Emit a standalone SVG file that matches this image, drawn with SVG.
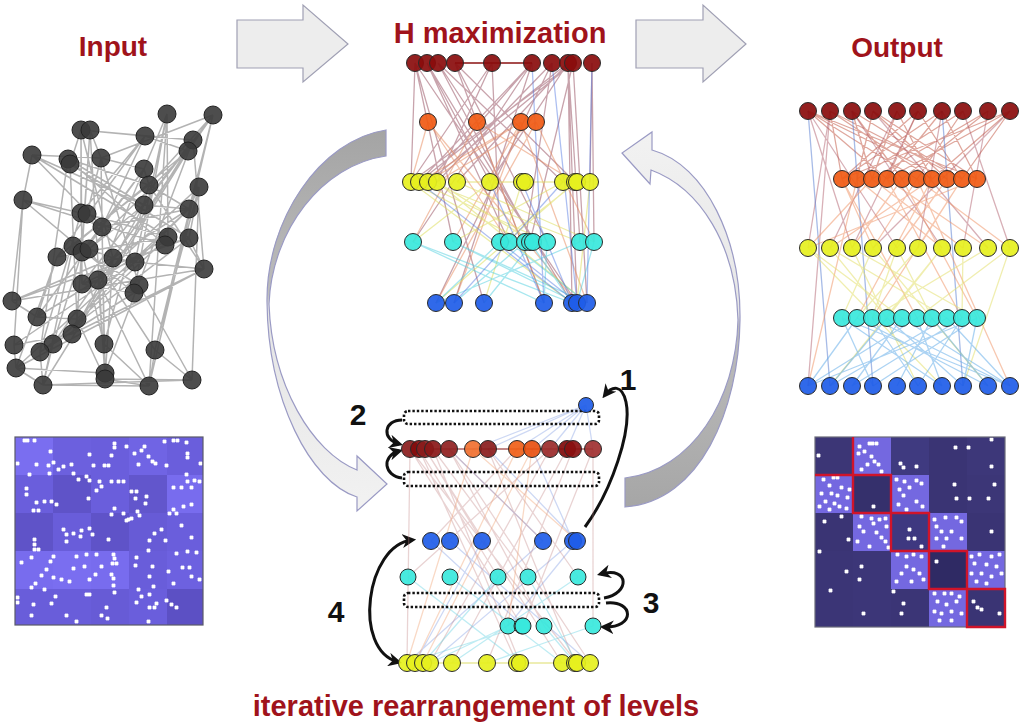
<svg xmlns="http://www.w3.org/2000/svg" width="1024" height="728" viewBox="0 0 1024 728">
<style>
.title{font-family:"Liberation Sans",Arial,sans-serif;font-weight:bold;fill:#a0131b}
.num{font-family:"Liberation Sans",Arial,sans-serif;font-weight:bold;fill:#111;font-size:30px;text-anchor:middle}
.n{stroke:#2a2a2a;stroke-width:1;fill-opacity:.92}
.g{fill:#3a3a3a;stroke:#222;stroke-width:1;fill-opacity:.9}
.dr{fill:#8a0c0c}.or{fill:#f05a14}.ye{fill:#e6f01e}.cy{fill:#38e8dc}.bl{fill:#1e5ce8}
.e{fill:none;stroke-width:1.3}
.blk{fill:#ededed;stroke:#a0a0b4;stroke-width:1.2}
.dot{fill:none;stroke:#111;stroke-width:2.6;stroke-dasharray:2.4 2}
.ba{fill:none;stroke:#111;stroke-width:3}
.wd{fill:#fff;stroke:#fff;stroke-width:.8}
</style>
<defs>
<marker id="ah" viewBox="0 0 10 10" refX="7" refY="5" markerWidth="4.6" markerHeight="4.6" orient="auto-start-reverse" markerUnits="strokeWidth">
<path d="M0,0 L10,5 L0,10 L3,5 z" fill="#111"/>
</marker>
<linearGradient id="gL" gradientUnits="userSpaceOnUse" x1="0" y1="130" x2="0" y2="513">
<stop offset="0" stop-color="#a4a4a4"/><stop offset="0.43" stop-color="#bcbcbc"/><stop offset="0.46" stop-color="#e4e4e4"/><stop offset="1" stop-color="#f2f2f2"/>
</linearGradient>
<linearGradient id="gR" gradientUnits="userSpaceOnUse" x1="0" y1="130" x2="0" y2="508">
<stop offset="0" stop-color="#f2f2f2"/><stop offset="0.49" stop-color="#e6e6e6"/><stop offset="0.52" stop-color="#bdbdbd"/><stop offset="1" stop-color="#a6a6a6"/>
</linearGradient>
</defs>
<rect width="1024" height="728" fill="#fff"/>

<g id="labels">
<text class="title" x="113" y="56" font-size="28" text-anchor="middle">Input</text>
<text class="title" x="500" y="43" font-size="29" text-anchor="middle">H maximization</text>
<text class="title" x="897" y="57" font-size="28" text-anchor="middle">Output</text>
<text class="title" x="476" y="716" font-size="29" text-anchor="middle">iterative rearrangement of levels</text>
<text class="num" x="628" y="390">1</text>
<text class="num" x="358" y="425">2</text>
<text class="num" x="651" y="613">3</text>
<text class="num" x="336" y="622">4</text>
</g>

<g id="connectors">
<path class="blk" d="M237,20 L303,20 L303,5 L348,44 L303,82 L303,68 L237,68 Z"/>
<path class="blk" d="M636,20 L703,20 L703,5 L746,44 L703,82 L703,68 L636,68 Z"/>
<path fill="url(#gL)" stroke="#9a9ac4" stroke-width="1.2" d="M386,130 C320,140 266,220 267,302 C268,400 310,482 357,497 L357,511 L387,484 L357,456 L357,470 C312,452 272,385 269,304 C272,230 322,165 386,156 Z"/>
<path fill="url(#gR)" stroke="#9a9ac4" stroke-width="1.2" d="M625,478 C692,470 736,400 738,320 C736,245 700,188 651,170 L650,184 L622,153 L652,132 L652,150 C706,165 741,240 740,320 C739,410 700,502 625,507 Z"/>
<path class="ba" marker-end="url(#ah)" d="M585,527 C612,490 632,430 626,402 C622,384 612,386 605,395"/>
<path class="ba" marker-end="url(#ah)" d="M402,420 C384,420 381,439 399,444"/>
<path class="ba" marker-end="url(#ah)" d="M402,478 C384,476 381,456 399,451"/>
<path class="ba" marker-end="url(#ah)" d="M604,598 C630,594 630,566 601,574"/>
<path class="ba" marker-end="url(#ah)" d="M606,603 C634,600 636,628 604,627"/>
<path class="ba" marker-start="url(#ah)" marker-end="url(#ah)" d="M412,540 C366,545 352,650 398,662"/>
</g>

<g id="input-graph">
<path fill="none" stroke="#808080" stroke-opacity=".6" stroke-width="1.5" d="M167 114L144 169M167 114L135 262M167 114L168 237M167 114L134 293M167 114L149 386M213 115L188 151M213 115L149 185M213 115L189 209M213 115L155 350M213 115L149 386M213 115L144 205M213 115L101 158M81 130L145 136M81 130L193 140M81 130L70 164M81 130L81 213M81 130L113 258M81 130L82 284M90 130L101 158M90 130L82 252M90 130L77 319M90 130L105 379M145 136L193 140M145 136L188 151M145 136L102 227M145 136L57 257M193 140L188 151M193 140L204 269M193 140L82 284M193 140L72 334M193 140L105 373M188 151L73 246M188 151L89 249M188 151L98 280M188 151L53 344M188 151L43 385M32 155L101 158M32 155L23 200M32 155L102 227M32 155L168 237M68 159L144 205M68 159L149 185M68 159L165 245M68 159L40 352M70 164L189 238M70 164L77 319M101 158L144 169M101 158L87 214M101 158L104 344M144 169L149 185M144 169L82 252M144 169L37 317M149 185L189 209M149 185L204 269M149 185L57 257M199 187L189 209M199 187L189 238M199 187L192 380M199 187L98 280M23 200L81 213M23 200L12 301M23 200L14 345M23 200L165 245M144 205L189 209M144 205L89 249M144 205L72 334M189 209L102 227M189 209L113 258M189 209L77 319M189 209L16 368M81 213L87 214M81 213L135 262M81 213L40 352M87 214L168 237M102 227L37 317M102 227L105 373M168 237L165 245M168 237L57 257M168 237L53 344M165 245L189 238M165 245L82 284M189 238L204 269M189 238L12 301M189 238L40 352M73 246L82 252M73 246L139 285M73 246L43 385M82 252L104 344M89 249L113 258M89 249L155 350M57 257L37 317M113 258L135 262M113 258L105 379M135 262L204 269M135 262L14 345M204 269L72 334M204 269L16 368M204 269L12 301M98 280L82 284M98 280L149 386M82 284L134 293M139 285L134 293M139 285L192 380M134 293L53 344M12 301L37 317M37 317L77 319M77 319L72 334M72 334L14 345M14 345L16 368M53 344L40 352M53 344L43 385M40 352L43 385M104 344L105 373M104 344L149 386M155 350L149 386M155 350L192 380M105 373L105 379M105 379L149 386M105 379L192 380M43 385L149 386M16 368L105 373M77 319L105 379M98 280L105 373M57 257L16 368M82 252L53 344M144 169L98 280M149 185L104 344M199 187L155 350M145 136L81 213M101 158L139 285M43 385L192 380M16 368L43 385M32 155L144 205M23 200L134 293M12 301L113 258M37 317L168 237"/>
<g>
<circle class="g" cx="167" cy="114" r="9"/><circle class="g" cx="213" cy="115" r="9"/><circle class="g" cx="81" cy="130" r="9"/><circle class="g" cx="90" cy="130" r="9"/><circle class="g" cx="145" cy="136" r="9"/><circle class="g" cx="193" cy="140" r="9"/><circle class="g" cx="188" cy="151" r="9"/><circle class="g" cx="32" cy="155" r="9"/><circle class="g" cx="68" cy="159" r="9"/><circle class="g" cx="70" cy="164" r="9"/><circle class="g" cx="101" cy="158" r="9"/><circle class="g" cx="144" cy="169" r="9"/><circle class="g" cx="149" cy="185" r="9"/><circle class="g" cx="199" cy="187" r="9"/><circle class="g" cx="23" cy="200" r="9"/><circle class="g" cx="144" cy="205" r="9"/><circle class="g" cx="189" cy="209" r="9"/><circle class="g" cx="81" cy="213" r="9"/><circle class="g" cx="87" cy="214" r="9"/><circle class="g" cx="102" cy="227" r="9"/><circle class="g" cx="168" cy="237" r="9"/><circle class="g" cx="165" cy="245" r="9"/><circle class="g" cx="189" cy="238" r="9"/><circle class="g" cx="73" cy="246" r="9"/><circle class="g" cx="82" cy="252" r="9"/><circle class="g" cx="89" cy="249" r="9"/><circle class="g" cx="57" cy="257" r="9"/><circle class="g" cx="113" cy="258" r="9"/><circle class="g" cx="135" cy="262" r="9"/><circle class="g" cx="204" cy="269" r="9"/><circle class="g" cx="98" cy="280" r="9"/><circle class="g" cx="82" cy="284" r="9"/><circle class="g" cx="139" cy="285" r="9"/><circle class="g" cx="134" cy="293" r="9"/><circle class="g" cx="12" cy="301" r="9"/><circle class="g" cx="37" cy="317" r="9"/><circle class="g" cx="77" cy="319" r="9"/><circle class="g" cx="72" cy="334" r="9"/><circle class="g" cx="14" cy="345" r="9"/><circle class="g" cx="53" cy="344" r="9"/><circle class="g" cx="40" cy="352" r="9"/><circle class="g" cx="104" cy="344" r="9"/><circle class="g" cx="155" cy="350" r="9"/><circle class="g" cx="16" cy="368" r="9"/><circle class="g" cx="105" cy="373" r="9"/><circle class="g" cx="105" cy="379" r="9"/><circle class="g" cx="43" cy="385" r="9"/><circle class="g" cx="149" cy="386" r="9"/><circle class="g" cx="192" cy="380" r="9"/>
</g>
</g>

<g id="input-matrix">
<rect x="15" y="437" width="38" height="38" fill="#7a6ef0"/><rect x="53" y="437" width="38" height="38" fill="#6c60de"/><rect x="91" y="437" width="38" height="38" fill="#6a5edc"/><rect x="129" y="437" width="38" height="38" fill="#7064e4"/><rect x="167" y="437" width="36" height="38" fill="#6a5edc"/>
<rect x="15" y="475" width="38" height="38" fill="#6a5edc"/><rect x="53" y="475" width="38" height="38" fill="#5f53c8"/><rect x="91" y="475" width="38" height="38" fill="#6a5edc"/><rect x="129" y="475" width="38" height="38" fill="#6256cc"/><rect x="167" y="475" width="36" height="38" fill="#786cee"/>
<rect x="15" y="513" width="38" height="38" fill="#5f53c8"/><rect x="53" y="513" width="38" height="38" fill="#695dda"/><rect x="91" y="513" width="38" height="38" fill="#5f53c8"/><rect x="129" y="513" width="38" height="38" fill="#675bd6"/><rect x="167" y="513" width="36" height="38" fill="#6a5edc"/>
<rect x="15" y="551" width="38" height="38" fill="#786cee"/><rect x="53" y="551" width="38" height="38" fill="#7a6ef0"/><rect x="91" y="551" width="38" height="38" fill="#786cee"/><rect x="129" y="551" width="38" height="38" fill="#695dda"/><rect x="167" y="551" width="36" height="38" fill="#6d61e0"/>
<rect x="15" y="589" width="38" height="36" fill="#695dda"/><rect x="53" y="589" width="38" height="36" fill="#695dda"/><rect x="91" y="589" width="38" height="36" fill="#675bd6"/><rect x="129" y="589" width="38" height="36" fill="#6a5edc"/><rect x="167" y="589" width="36" height="36" fill="#5c50c4"/>
<path class="wd" d="M23 439h3v3h-3zM26 439h3v3h-3zM33 439h3v3h-3zM113 442h3v3h-3zM113 446h3v3h-3zM125 445h3v3h-3zM143 445h3v3h-3zM140 449h3v3h-3zM163 440h3v3h-3zM172 439h3v3h-3zM176 439h3v3h-3zM185 441h3v3h-3zM49 450h3v3h-3zM88 453h3v3h-3zM110 454h3v3h-3zM133 452h3v3h-3zM147 455h3v3h-3zM151 460h3v3h-3zM186 452h3v3h-3zM186 456h3v3h-3zM16 462h3v3h-3zM35 463h3v3h-3zM47 464h3v3h-3zM52 461h3v3h-3zM57 468h3v3h-3zM62 465h3v3h-3zM70 463h3v3h-3zM92 464h3v3h-3zM103 464h3v3h-3zM107 464h3v3h-3zM137 463h3v3h-3zM154 462h3v3h-3zM165 464h3v3h-3zM199 462h3v3h-3zM28 473h3v3h-3zM48 472h3v3h-3zM72 472h3v3h-3zM77 478h3v3h-3zM85 475h3v3h-3zM88 479h3v3h-3zM98 480h3v3h-3zM110 480h3v3h-3zM117 480h3v3h-3zM122 480h3v3h-3zM185 473h3v3h-3zM186 480h3v3h-3zM193 479h3v3h-3zM198 480h3v3h-3zM172 486h3v3h-3zM180 486h3v3h-3zM190 486h3v3h-3zM95 489h3v3h-3zM100 485h3v3h-3zM25 487h3v3h-3zM25 493h3v3h-3zM130 490h3v3h-3zM135 490h3v3h-3zM145 495h3v3h-3zM134 497h3v3h-3zM144 502h3v3h-3zM35 501h3v3h-3zM43 500h3v3h-3zM50 500h3v3h-3zM55 503h3v3h-3zM32 509h3v3h-3zM37 509h3v3h-3zM87 497h3v3h-3zM113 507h3v3h-3zM110 513h3v3h-3zM136 510h3v3h-3zM172 508h3v3h-3zM190 503h3v3h-3zM182 505h3v3h-3zM175 512h3v3h-3zM168 512h3v3h-3zM122 512h3v3h-3zM127 518h3v3h-3zM138 514h3v3h-3zM125 519h3v3h-3zM130 517h3v3h-3zM160 528h3v3h-3zM180 524h3v3h-3zM62 528h3v3h-3zM65 533h3v3h-3zM72 532h3v3h-3zM80 529h3v3h-3zM88 527h3v3h-3zM91 533h3v3h-3zM79 535h3v3h-3zM153 532h3v3h-3zM33 538h3v3h-3zM33 543h3v3h-3zM33 548h3v3h-3zM37 548h3v3h-3zM65 540h3v3h-3zM107 538h3v3h-3zM148 539h3v3h-3zM147 549h3v3h-3zM190 536h3v3h-3zM164 539h3v3h-3zM30 556h3v3h-3zM52 555h3v3h-3zM49 560h3v3h-3zM75 555h3v3h-3zM85 553h3v3h-3zM95 553h3v3h-3zM112 553h3v3h-3zM113 557h3v3h-3zM115 562h3v3h-3zM135 556h3v3h-3zM175 552h3v3h-3zM186 550h3v3h-3zM195 551h3v3h-3zM20 561h3v3h-3zM72 567h3v3h-3zM83 565h3v3h-3zM100 565h3v3h-3zM111 562h3v3h-3zM134 564h3v3h-3zM151 565h3v3h-3zM45 568h3v3h-3zM40 574h3v3h-3zM52 576h3v3h-3zM60 578h3v3h-3zM68 580h3v3h-3zM88 578h3v3h-3zM94 573h3v3h-3zM110 573h3v3h-3zM112 577h3v3h-3zM112 584h3v3h-3zM167 570h3v3h-3zM181 566h3v3h-3zM188 566h3v3h-3zM190 575h3v3h-3zM198 578h3v3h-3zM148 575h3v3h-3zM172 582h3v3h-3zM34 582h3v3h-3zM30 586h3v3h-3zM43 588h3v3h-3zM137 588h3v3h-3zM152 585h3v3h-3zM16 596h3v3h-3zM16 601h3v3h-3zM54 595h3v3h-3zM85 593h3v3h-3zM88 593h3v3h-3zM113 591h3v3h-3zM140 595h3v3h-3zM135 601h3v3h-3zM148 593h3v3h-3zM155 602h3v3h-3zM165 599h3v3h-3zM170 603h3v3h-3zM175 606h3v3h-3zM32 603h3v3h-3zM50 602h3v3h-3zM105 606h3v3h-3zM148 606h3v3h-3zM153 606h3v3h-3zM30 614h3v3h-3zM65 614h3v3h-3zM100 614h3v3h-3zM106 617h3v3h-3zM147 620h3v3h-3zM75 620h3v3h-3z"/>
<rect x="15" y="437" width="188" height="188" fill="none" stroke="#5a5a6a" stroke-width="1.2"/>
</g>

<g id="hmax">
<path class="e" stroke="#9a5868" stroke-opacity=".55" d="M415 63L411 182M415 63L453 242M415 63L484 303M427 63L490 182M427 63L509 242M438 63L563 182M438 63L477 122M455 63L544 303M455 63L547 242M492 63L437 182M492 63L500 242M492 63L411 182M532 63L419 182M532 63L428 182M532 63L413 242M532 63L454 303M552 63L437 182M552 63L525 242M568 63L419 182M568 63L457 182M568 63L580 242M568 63L572 303M568 63L577 303M573 63L428 182M573 63L530 242M573 63L587 303M592 63L590 182M592 63L594 242M427 63L572 303M438 63L533 242M455 63L575 182M552 63L436 303M573 63L411 182M568 63L490 182M415 63L577 303"/>
<path class="e" stroke="#e8885a" stroke-opacity=".5" d="M428 122L411 182M428 122L509 242M428 122L577 303M477 122L575 182M477 122L544 303M521 122L419 182M521 122L428 182M521 122L453 242M521 122L454 303M536 122L437 182M536 122L436 303M477 122L413 242M536 122L594 242M521 122L587 303"/>
<path class="e" stroke="#dede60" stroke-opacity=".55" d="M411 182L525 242M419 182L547 242M428 182L580 242M437 182L587 303M457 182L594 242M490 182L413 242M522 182L484 303M563 182L453 242M575 182L436 303M577 182L500 242M590 182L577 303M437 182L533 242M411 182L572 303M457 182L590 182"/>
<path class="e" stroke="#50d0e0" stroke-opacity=".5" d="M413 242L572 303M453 242L577 303M500 242L436 303M509 242L587 303M525 242L454 303M530 242L572 303M533 242L484 303M547 242L544 303M580 242L436 303M594 242L577 303M413 242L544 303M453 242L587 303"/>
<path class="e" stroke="#4a70e0" stroke-opacity=".45" d="M544 303L490 182M572 303L522 182M577 303L500 242M587 303L592 63M572 303L419 182M577 303L552 63M544 303L532 63M454 303L563 182"/>
<path class="e" stroke="#8a1010" stroke-width="1.6" d="M455 63L532 63"/>
<g class="n">
<circle class="dr" cx="415" cy="63" r="8.5"/><circle class="dr" cx="427" cy="63" r="8.5"/><circle class="dr" cx="438" cy="63" r="8.5"/><circle class="dr" cx="455" cy="63" r="8.5"/><circle class="dr" cx="492" cy="63" r="8.5"/><circle class="dr" cx="532" cy="63" r="8.5"/><circle class="dr" cx="552" cy="63" r="8.5"/><circle class="dr" cx="568" cy="63" r="8.5"/><circle class="dr" cx="573" cy="63" r="8.5"/><circle class="dr" cx="592" cy="63" r="8.5"/>
<circle class="or" cx="428" cy="122" r="8.5"/><circle class="or" cx="477" cy="122" r="8.5"/><circle class="or" cx="521" cy="122" r="8.5"/><circle class="or" cx="536" cy="122" r="8.5"/>
<circle class="ye" cx="411" cy="182" r="8.5"/><circle class="ye" cx="419" cy="182" r="8.5"/><circle class="ye" cx="428" cy="182" r="8.5"/><circle class="ye" cx="437" cy="182" r="8.5"/><circle class="ye" cx="457" cy="182" r="8.5"/><circle class="ye" cx="490" cy="182" r="8.5"/><circle class="ye" cx="522" cy="182" r="8.5"/><circle class="ye" cx="525" cy="182" r="8.5"/><circle class="ye" cx="563" cy="182" r="8.5"/><circle class="ye" cx="575" cy="182" r="8.5"/><circle class="ye" cx="577" cy="182" r="8.5"/><circle class="ye" cx="590" cy="182" r="8.5"/>
<circle class="cy" cx="413" cy="242" r="8.5"/><circle class="cy" cx="453" cy="242" r="8.5"/><circle class="cy" cx="500" cy="242" r="8.5"/><circle class="cy" cx="509" cy="242" r="8.5"/><circle class="cy" cx="525" cy="242" r="8.5"/><circle class="cy" cx="530" cy="242" r="8.5"/><circle class="cy" cx="533" cy="242" r="8.5"/><circle class="cy" cx="547" cy="242" r="8.5"/><circle class="cy" cx="580" cy="242" r="8.5"/><circle class="cy" cx="594" cy="242" r="8.5"/>
<circle class="bl" cx="436" cy="303" r="8.5"/><circle class="bl" cx="454" cy="303" r="8.5"/><circle class="bl" cx="484" cy="303" r="8.5"/><circle class="bl" cx="544" cy="303" r="8.5"/><circle class="bl" cx="572" cy="303" r="8.5"/><circle class="bl" cx="577" cy="303" r="8.5"/><circle class="bl" cx="587" cy="303" r="8.5"/>
</g>
</g>

<g id="output-graph">
<path class="e" stroke="#c0503c" stroke-opacity=".5" d="M808 111L887 179M808 111L917 179M808 111L947 179M808 111L977 179M830 111L842 179M830 111L932 179M852 111L902 179M852 111L962 179M873 111L857 179M873 111L977 179M897 111L872 179M897 111L932 179M918 111L842 179M918 111L962 179M942 111L887 179M942 111L977 179M963 111L857 179M963 111L917 179M988 111L872 179M988 111L902 179M1010 111L842 179M1010 111L887 179M1010 111L932 179M873 111L947 179M942 111L842 179M852 111L872 179M830 111L962 179M918 111L887 179M1010 111L962 179"/>
<path class="e" stroke="#a85060" stroke-opacity=".45" d="M808 111L897 248M830 111L808 248M852 111L942 248M873 111L988 248M918 111L852 248M942 111L918 248M963 111L1010 248M1010 111L873 248M988 111L963 248M897 111L830 248M808 111L852 248M830 111L808 386"/>
<path class="e" stroke="#5078d0" stroke-opacity=".5" d="M808 111L830 386M942 111L963 386M852 111L873 386"/>
<path class="e" stroke="#f09060" stroke-opacity=".5" d="M842 179L873 248M857 179L942 248M872 179L808 248M887 179L988 248M902 179L852 248M917 179L1010 248M932 179L830 248M947 179L897 248M962 179L918 248M977 179L808 248M872 179L963 248M917 179L873 248M842 179L917 318M887 179L962 318M932 179L857 318M962 179L872 318M902 179L977 318M857 179L808 386M917 179L1010 386"/>
<path class="e" stroke="#e4e070" stroke-opacity=".55" d="M808 248L902 318M830 248L947 318M852 248L977 318M873 248L842 318M897 248L932 318M918 248L857 318M942 248L887 318M963 248L962 318M988 248L872 318M1010 248L917 318M897 248L872 318M830 248L887 318M808 248L942 386M873 248L988 386M942 248L830 386M1010 248L963 386M852 248L918 386"/>
<path class="e" stroke="#5aa8e8" stroke-opacity=".5" d="M842 318L873 386M842 318L942 386M857 318L808 386M857 318L988 386M872 318L918 386M872 318L1010 386M887 318L830 386M887 318L963 386M902 318L852 386M902 318L1010 386M917 318L808 386M917 318L942 386M932 318L897 386M932 318L988 386M947 318L830 386M947 318L1010 386M962 318L852 386M962 318L918 386M977 318L873 386M977 318L963 386M842 318L1010 386M977 318L808 386"/>
<g class="n">
<circle class="dr" cx="808" cy="111" r="8.5"/><circle class="dr" cx="830" cy="111" r="8.5"/><circle class="dr" cx="852" cy="111" r="8.5"/><circle class="dr" cx="873" cy="111" r="8.5"/><circle class="dr" cx="897" cy="111" r="8.5"/><circle class="dr" cx="918" cy="111" r="8.5"/><circle class="dr" cx="942" cy="111" r="8.5"/><circle class="dr" cx="963" cy="111" r="8.5"/><circle class="dr" cx="988" cy="111" r="8.5"/><circle class="dr" cx="1010" cy="111" r="8.5"/>
<circle class="or" cx="842" cy="179" r="8.5"/><circle class="or" cx="857" cy="179" r="8.5"/><circle class="or" cx="872" cy="179" r="8.5"/><circle class="or" cx="887" cy="179" r="8.5"/><circle class="or" cx="902" cy="179" r="8.5"/><circle class="or" cx="917" cy="179" r="8.5"/><circle class="or" cx="932" cy="179" r="8.5"/><circle class="or" cx="947" cy="179" r="8.5"/><circle class="or" cx="962" cy="179" r="8.5"/><circle class="or" cx="977" cy="179" r="8.5"/>
<circle class="ye" cx="808" cy="248" r="8.5"/><circle class="ye" cx="830" cy="248" r="8.5"/><circle class="ye" cx="852" cy="248" r="8.5"/><circle class="ye" cx="873" cy="248" r="8.5"/><circle class="ye" cx="897" cy="248" r="8.5"/><circle class="ye" cx="918" cy="248" r="8.5"/><circle class="ye" cx="942" cy="248" r="8.5"/><circle class="ye" cx="963" cy="248" r="8.5"/><circle class="ye" cx="988" cy="248" r="8.5"/><circle class="ye" cx="1010" cy="248" r="8.5"/>
<circle class="cy" cx="842" cy="318" r="8.5"/><circle class="cy" cx="857" cy="318" r="8.5"/><circle class="cy" cx="872" cy="318" r="8.5"/><circle class="cy" cx="887" cy="318" r="8.5"/><circle class="cy" cx="902" cy="318" r="8.5"/><circle class="cy" cx="917" cy="318" r="8.5"/><circle class="cy" cx="932" cy="318" r="8.5"/><circle class="cy" cx="947" cy="318" r="8.5"/><circle class="cy" cx="962" cy="318" r="8.5"/><circle class="cy" cx="977" cy="318" r="8.5"/>
<circle class="bl" cx="808" cy="386" r="8.5"/><circle class="bl" cx="830" cy="386" r="8.5"/><circle class="bl" cx="852" cy="386" r="8.5"/><circle class="bl" cx="873" cy="386" r="8.5"/><circle class="bl" cx="897" cy="386" r="8.5"/><circle class="bl" cx="918" cy="386" r="8.5"/><circle class="bl" cx="942" cy="386" r="8.5"/><circle class="bl" cx="963" cy="386" r="8.5"/><circle class="bl" cx="988" cy="386" r="8.5"/><circle class="bl" cx="1010" cy="386" r="8.5"/>
</g>
</g>

<g id="output-matrix">
<rect x="815" y="437" width="38" height="38" fill="#3c3676"/><rect x="853" y="437" width="38" height="38" fill="#7468e0"/><rect x="891" y="437" width="38" height="38" fill="#3f3a80"/><rect x="929" y="437" width="38" height="38" fill="#3a3474"/><rect x="967" y="437" width="38" height="38" fill="#3d3779"/>
<rect x="815" y="475" width="38" height="38" fill="#7468e0"/><rect x="853" y="475" width="38" height="38" fill="#35306c"/><rect x="891" y="475" width="38" height="38" fill="#7468e0"/><rect x="929" y="475" width="38" height="38" fill="#3a3474"/><rect x="967" y="475" width="38" height="38" fill="#3c3677"/>
<rect x="815" y="513" width="38" height="38" fill="#3a3474"/><rect x="853" y="513" width="38" height="38" fill="#7468e0"/><rect x="891" y="513" width="38" height="38" fill="#3e3880"/><rect x="929" y="513" width="38" height="38" fill="#7468e0"/><rect x="967" y="513" width="38" height="38" fill="#3a3474"/>
<rect x="815" y="551" width="38" height="38" fill="#3b3576"/><rect x="853" y="551" width="38" height="38" fill="#3c3678"/><rect x="891" y="551" width="38" height="38" fill="#7468e0"/><rect x="929" y="551" width="38" height="38" fill="#2f2a64"/><rect x="967" y="551" width="38" height="38" fill="#7468e0"/>
<rect x="815" y="589" width="38" height="38" fill="#3b3576"/><rect x="853" y="589" width="38" height="38" fill="#3c3678"/><rect x="891" y="589" width="38" height="38" fill="#3b3576"/><rect x="929" y="589" width="38" height="38" fill="#7468e0"/><rect x="967" y="589" width="38" height="38" fill="#3a3474"/>
<path class="wd" d="M858 445h3v3h-3zM868 442h3v3h-3zM871 442h3v3h-3zM875 442h3v3h-3zM857 452h3v3h-3zM863 450h3v3h-3zM870 455h3v3h-3zM873 460h3v3h-3zM866 463h3v3h-3zM877 463h3v3h-3zM860 468h3v3h-3zM880 470h3v3h-3zM817 454h3v3h-3zM899 462h3v3h-3zM902 466h3v3h-3zM915 465h3v3h-3zM954 446h3v3h-3zM967 446h3v3h-3zM990 438h3v3h-3zM990 465h3v3h-3zM822 478h3v3h-3zM832 476h3v3h-3zM836 476h3v3h-3zM828 484h3v3h-3zM840 486h3v3h-3zM848 488h3v3h-3zM820 492h3v3h-3zM830 492h3v3h-3zM836 494h3v3h-3zM846 496h3v3h-3zM824 500h3v3h-3zM833 502h3v3h-3zM838 505h3v3h-3zM818 505h3v3h-3zM845 507h3v3h-3zM828 508h3v3h-3zM872 505h3v3h-3zM895 478h3v3h-3zM903 480h3v3h-3zM915 479h3v3h-3zM920 482h3v3h-3zM898 488h3v3h-3zM908 486h3v3h-3zM902 494h3v3h-3zM915 500h3v3h-3zM897 503h3v3h-3zM921 505h3v3h-3zM905 508h3v3h-3zM953 483h3v3h-3zM955 497h3v3h-3zM968 497h3v3h-3zM993 483h3v3h-3zM987 497h3v3h-3zM840 515h3v3h-3zM847 538h3v3h-3zM823 520h3v3h-3zM860 515h3v3h-3zM870 517h3v3h-3zM878 518h3v3h-3zM884 517h3v3h-3zM858 525h3v3h-3zM872 522h3v3h-3zM885 525h3v3h-3zM862 530h3v3h-3zM875 531h3v3h-3zM880 536h3v3h-3zM856 540h3v3h-3zM868 545h3v3h-3zM884 540h3v3h-3zM887 546h3v3h-3zM908 528h3v3h-3zM907 537h3v3h-3zM913 537h3v3h-3zM920 545h3v3h-3zM933 518h3v3h-3zM944 516h3v3h-3zM955 516h3v3h-3zM960 520h3v3h-3zM935 525h3v3h-3zM940 530h3v3h-3zM950 530h3v3h-3zM935 537h3v3h-3zM945 537h3v3h-3zM960 537h3v3h-3zM942 545h3v3h-3zM990 530h3v3h-3zM818 550h3v3h-3zM845 570h3v3h-3zM860 565h3v3h-3zM858 578h3v3h-3zM896 553h3v3h-3zM905 555h3v3h-3zM912 553h3v3h-3zM920 555h3v3h-3zM905 565h3v3h-3zM912 568h3v3h-3zM900 572h3v3h-3zM918 572h3v3h-3zM895 580h3v3h-3zM910 580h3v3h-3zM922 578h3v3h-3zM935 560h3v3h-3zM970 555h3v3h-3zM978 553h3v3h-3zM990 555h3v3h-3zM998 553h3v3h-3zM973 562h3v3h-3zM985 563h3v3h-3zM995 565h3v3h-3zM970 572h3v3h-3zM980 572h3v3h-3zM990 575h3v3h-3zM1000 572h3v3h-3zM975 580h3v3h-3zM985 582h3v3h-3zM829 589h3v3h-3zM862 612h3v3h-3zM892 590h3v3h-3zM902 602h3v3h-3zM900 612h3v3h-3zM933 592h3v3h-3zM943 592h3v3h-3zM950 592h3v3h-3zM958 595h3v3h-3zM936 600h3v3h-3zM945 603h3v3h-3zM955 600h3v3h-3zM933 610h3v3h-3zM940 612h3v3h-3zM950 610h3v3h-3zM960 612h3v3h-3zM938 619h3v3h-3zM950 619h3v3h-3zM972 600h3v3h-3zM976 606h3v3h-3zM980 608h3v3h-3zM998 612h3v3h-3z"/>
<rect x="815" y="437" width="190" height="190" fill="none" stroke="#6a6a7a" stroke-width="1.2"/>
<path fill="none" stroke="#d0142a" stroke-width="2.4" d="M853 437V475H815M853 475H891V513H853ZM891 513H929V551H891ZM929 551H967V589H929ZM967 589H1005V627H967Z"/>
</g>

<g id="rearrange">
<path class="e" stroke="#7090e0" stroke-opacity=".35" stroke-width=".9" d="M586 405L517 449M586 405L532 449M586 405L550 449M586 405L567 449M586 405L488 449M586 405L473 449M586 405L593 449M431 541L523 626M450 541L590 663M482 541L415 663M543 541L407 663M573 541L430 663M577 541L508 626M573 541L532 449M577 541L488 449M543 541L449 449"/>
<path class="e" stroke="#c08080" stroke-opacity=".35" stroke-width=".9" d="M410 449L407 663M425 449L482 541M449 449L543 541M517 449L431 541M419 449L498 577M488 449L578 577M550 449L408 577M433 449L528 577M410 449L522 626M449 449L544 626M593 449L523 626M419 449L517 663M425 449L562 663M449 449L590 663M488 449L575 663M550 449L430 663M567 449L452 663M573 449L487 663M410 449L577 663M433 449L520 663M593 449L593 626"/>
<path class="e" stroke="#f0a070" stroke-opacity=".4" stroke-width=".9" d="M473 449L407 663M517 449L415 663M532 449L423 663M532 449L508 626M473 449L577 541"/>
<path class="e" stroke="#60d0e0" stroke-opacity=".4" stroke-width=".9" d="M408 577L520 663M450 577L562 663M498 577L423 663M528 577L577 663M578 577L452 663M508 626L430 663M522 626L407 663M544 626L575 663M593 626L487 663"/>
<path class="e" stroke="#e0e070" stroke-opacity=".7" d="M407 663L590 663"/>
<path class="e" stroke="#8a2020" stroke-opacity=".7" d="M410 449L593 449"/>
<rect class="dot" x="404" y="411" width="195" height="13" rx="4"/>
<rect class="dot" x="404" y="472" width="195" height="14" rx="4"/>
<rect class="dot" x="404" y="593" width="195" height="14" rx="4"/>
<g class="n">
<circle class="bl" cx="586" cy="405" r="7.5"/>
<circle cx="410" cy="449" r="8.5" fill="#8a1c1c"/><circle cx="419" cy="449" r="8.5" fill="#840c0c"/><circle cx="425" cy="449" r="8.5" fill="#8a1c1c"/><circle cx="433" cy="449" r="8.5" fill="#8a1818"/><circle cx="449" cy="449" r="8.5" fill="#8f2020"/><circle cx="473" cy="449" r="8.5" fill="#f07030"/><circle cx="488" cy="449" r="8.5" fill="#8a1c1c"/><circle cx="517" cy="449" r="8.5" fill="#f06018"/><circle cx="532" cy="449" r="8.5" fill="#e85010"/><circle cx="550" cy="449" r="8.5" fill="#9a2a2a"/><circle cx="567" cy="449" r="8.5" fill="#800a0a"/><circle cx="573" cy="449" r="8.5" fill="#8a1010"/><circle cx="593" cy="449" r="8.5" fill="#a03030"/>
<circle class="bl" cx="431" cy="541" r="8.5"/><circle class="bl" cx="450" cy="541" r="8.5"/><circle class="bl" cx="482" cy="541" r="8.5"/><circle class="bl" cx="543" cy="541" r="8.5"/><circle class="bl" cx="573" cy="541" r="8.5"/><circle class="bl" cx="577" cy="541" r="8.5"/>
<circle class="cy" cx="408" cy="577" r="8"/><circle class="cy" cx="450" cy="577" r="8"/><circle class="cy" cx="498" cy="577" r="8"/><circle class="cy" cx="528" cy="577" r="8"/><circle class="cy" cx="578" cy="577" r="8"/>
<circle class="cy" cx="508" cy="626" r="8"/><circle class="cy" cx="522" cy="626" r="8"/><circle class="cy" cx="523" cy="626" r="8"/><circle class="cy" cx="544" cy="626" r="8"/><circle class="cy" cx="593" cy="626" r="8"/>
<circle class="ye" cx="407" cy="663" r="8.5"/><circle class="ye" cx="415" cy="663" r="8.5"/><circle class="ye" cx="423" cy="663" r="8.5"/><circle class="ye" cx="430" cy="663" r="8.5"/><circle class="ye" cx="452" cy="663" r="8.5"/><circle class="ye" cx="487" cy="663" r="8.5"/><circle class="ye" cx="517" cy="663" r="8.5"/><circle class="ye" cx="520" cy="663" r="8.5"/><circle class="ye" cx="562" cy="663" r="8.5"/><circle class="ye" cx="575" cy="663" r="8.5"/><circle class="ye" cx="577" cy="663" r="8.5"/><circle class="ye" cx="590" cy="663" r="8.5"/>
</g>
</g>
</svg>
